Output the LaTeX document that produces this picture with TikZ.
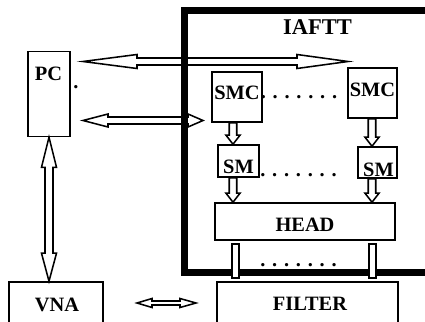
\documentclass[tikz,border=0pt]{standalone}
\usepackage{fontspec}
\setmainfont{Liberation Serif}
\usetikzlibrary{calc}

\newcommand\px{0.025cm}
\tikzset{
  box/.style={draw, line width=1.1pt, fill=white, inner sep=0pt},
  lbl/.style={font=\fontsize{14.5}{17}\selectfont\bfseries, inner sep=0pt},
  arrowline/.style={draw, line width=1.1pt, fill=white, line join=miter},
  frame/.style={draw, line width=0.175cm},
}

% fat double-headed arrow: start, end, shaft half width, head half width, head lengths
\newcommand\twoway[6]{%
  \draw[arrowline] (#1)
    -- ($(#1)!{#5*\px}!(#2)!{#4*\px}!90:(#2)$)
    -- ($(#1)!{#5*\px}!(#2)!{#3*\px}!90:(#2)$)
    -- ($(#2)!{#6*\px}!(#1)!{#3*\px}!-90:(#1)$)
    -- ($(#2)!{#6*\px}!(#1)!{#4*\px}!-90:(#1)$)
    -- (#2)
    -- ($(#2)!{#6*\px}!(#1)!{#4*\px}!90:(#1)$)
    -- ($(#2)!{#6*\px}!(#1)!{#3*\px}!90:(#1)$)
    -- ($(#1)!{#5*\px}!(#2)!{#3*\px}!-90:(#2)$)
    -- ($(#1)!{#5*\px}!(#2)!{#4*\px}!-90:(#2)$)
    -- cycle;}

% fat single arrow: tail, tip, shaft half width, head half width, head length
\newcommand\oneway[5]{%
  \draw[arrowline] ($(#1)!{#3*\px}!90:(#2)$)
    -- ($(#2)!{#5*\px}!(#1)!{#3*\px}!-90:(#1)$)
    -- ($(#2)!{#5*\px}!(#1)!{#4*\px}!-90:(#1)$)
    -- (#2)
    -- ($(#2)!{#5*\px}!(#1)!{#4*\px}!90:(#1)$)
    -- ($(#2)!{#5*\px}!(#1)!{#3*\px}!90:(#1)$)
    -- ($(#1)!{#3*\px}!-90:(#2)$)
    -- cycle;}

\begin{document}
\begin{tikzpicture}[x=0.025cm, y=-0.025cm]
\clip (0,0) rectangle (425,321);

% Boxes
\node[box, minimum width=1.05cm, minimum height=2.125cm] (pc) at (49,94) {};
\node[box, minimum width=2.35cm, minimum height=1.2cm] (vna) at (56,306) {};
\node[box, minimum width=1.25cm, minimum height=1.25cm] (smc1) at (237,97) {};
\node[box, minimum width=1.225cm, minimum height=1.25cm] (smc2) at (372.5,93) {};
\node[box, minimum width=1.025cm, minimum height=0.8cm] (sm1) at (238.5,161) {};
\node[box, minimum width=0.975cm, minimum height=0.775cm] (sm2) at (377.5,162.5) {};
\node[box, minimum width=4.5cm, minimum height=0.925cm] (head) at (305,221.5) {};
\node[box, minimum width=4.525cm, minimum height=1.2cm] (filter) at (307.5,306) {};

% Free ends of the side arrows
\coordinate (upl) at (83,61.5);
\coordinate (upr) at (348,61.5);
\coordinate (lowl) at (83,120.5);
\coordinate (lowr) at (203,120.5);
\coordinate (vnar) at (137,303);
\coordinate (filterl) at (196,303);
\coordinate (vnatop) at (pc.south |- vna.north);

% Side arrows
\twoway{upl}{upr}{3.5}{7}{54}{51}
\twoway{lowl}{lowr}{3.5}{6.5}{25}{15}
\twoway{pc.south}{vnatop}{4}{7.5}{30}{28}
\twoway{vnar}{filterl}{2}{4.5}{15}{16}

% Arrows down the chain
\coordinate (c1a) at ($(smc1.south)+(-4,0)$);
\coordinate (c1b) at (c1a |- sm1.north);
\coordinate (c2a) at ($(smc2.south)+(-0.5,0)$);
\coordinate (c2b) at (c2a |- sm2.north);
\coordinate (c3a) at (c1a |- sm1.south);
\coordinate (c3b) at (c1a |- head.north);
\coordinate (c4a) at (c2a |- sm2.south);
\coordinate (c4b) at (c2a |- head.north);
\oneway{c1a}{c1b}{3.75}{7}{9}
\oneway{c2a}{c2b}{3.75}{7}{9}
\oneway{c3a}{c3b}{3.75}{7}{9}
\oneway{c4a}{c4b}{3.75}{7}{9}

% IAFTT frame
\draw[frame] (184,10.5) rectangle (440,272);

% Links from HEAD to FILTER
\draw[box] ($(head.south west)+(18,3)$) rectangle ($(filter.north west)+(23,-3)$);
\draw[box] ($(head.south east)+(-27,3)$) rectangle ($(filter.north east)+(-23,-3)$);

% Labels
\node[lbl, font=\fontsize{16}{19}\selectfont\bfseries] (iaftt) at (317.5,27) {IAFTT};
\node[lbl] (pct) at (48.5,74) {PC};
\node[lbl] (pcdot) at (76,87) {.};
\node[lbl] (smc1t) at (237,93) {SMC};
\node[lbl] (smc2t) at (372.5,90) {SMC};
\node[lbl] (sm1t) at (238.5,167) {SM};
\node[lbl] (sm2t) at (378.5,170) {SM};
\node[lbl] (headt) at (305,225) {HEAD};
\node[lbl] (filtert) at (310,303.5) {FILTER};
\node[lbl] (vnat) at (57,305) {VNA};
\node[lbl] (dotsa) at (299,97) {. . . . . . .};
\node[lbl] (dotsb) at (298.5,175) {. . . . . . .};
\node[lbl] (dotsc) at (298.5,265.5) {. . . . . . .};
\end{tikzpicture}
\end{document}
